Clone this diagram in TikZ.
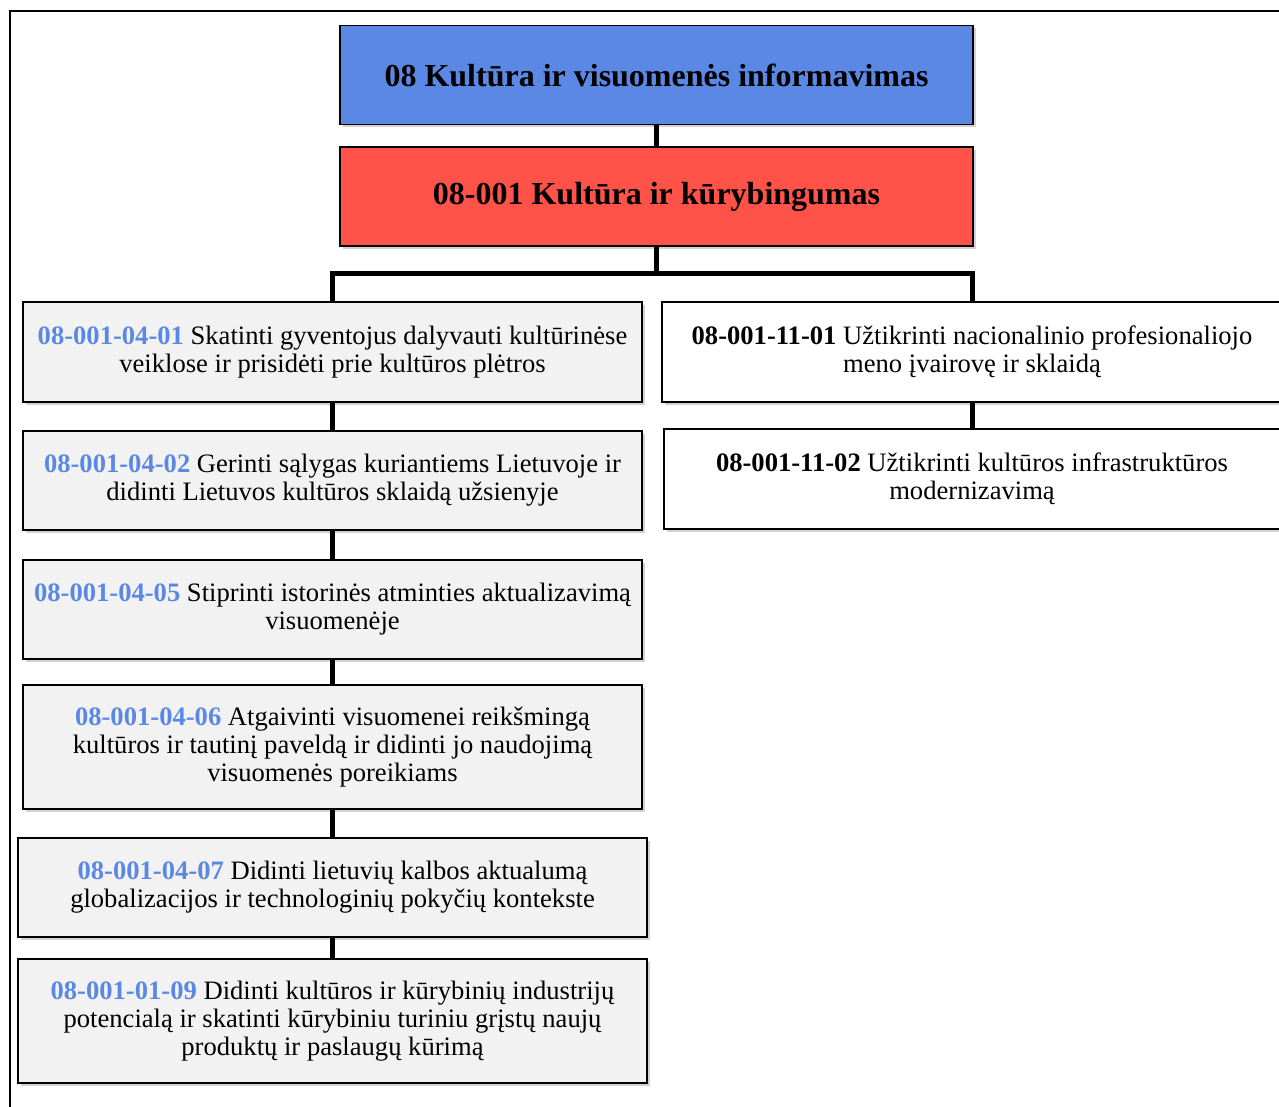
\documentclass[tikz,border=0pt]{standalone}
\usepackage{fontspec}
\setmainfont{Liberation Serif}
\usepackage{xcolor}
\usepackage{tikz}
\usetikzlibrary{calc,shadows}
\definecolor{progblue}{HTML}{5B88E5}
\definecolor{progred}{HTML}{FF5349}
\definecolor{taskgray}{HTML}{F2F2F2}
\newcommand{\progcode}[1]{{\color{progblue}\textbf{#1}}}
\tikzset{headbox/.style={draw=black, line width=0.9pt, rectangle, minimum width=316.5pt, minimum height=49.5pt, align=center, font=\fontsize{16pt}{18pt}\selectfont\bfseries, drop shadow={shadow xshift=1.5pt, shadow yshift=-1.5pt, opacity=0.35}}}
\tikzset{taskbox/.style={draw=black, line width=0.9pt, fill=taskgray, rectangle, inner sep=2pt, minimum width=309.5pt, minimum height=49.5pt, align=center, font=\fontsize{13.3pt}{14pt}\selectfont, drop shadow={shadow xshift=1.5pt, shadow yshift=-1.5pt, opacity=0.35}}}
\tikzset{line/.style={draw, line width=2.5pt, line join=miter}}

\begin{document}
\begin{tikzpicture}
		\useasboundingbox [fill=white] (0,0) rectangle (639.5pt,-553.5pt);
		% frame round the picture
		\coordinate (frametop) at (5pt,-5.5pt);
		\draw [line width=1pt] (645pt,-5.5pt) -- (frametop) -- (5pt,-560pt);
		
		\node [headbox, fill=progblue] at (328.25pt,-37.5pt) (program) {08 Kultūra ir visuomenės informavimas};
		\node [headbox, fill=progred, below of=program, node distance=60.75pt] (goal) {08-001 Kultūra ir kūrybingumas};
		
		%left column
		\node [taskbox, below of=goal, node distance=77.75pt, xshift=-162pt, minimum height=50pt] (task401) {\progcode{08-001-04-01} Skatinti gyventojus dalyvauti kultūrinėse\\ veiklose ir prisidėti prie kultūros plėtros};
		\node [taskbox, below of=task401, node distance=64.25pt] (task402) {\progcode{08-001-04-02} Gerinti sąlygas kuriantiems Lietuvoje ir\\ didinti Lietuvos kultūros sklaidą užsienyje};
		\node [taskbox, below of=task402, node distance=64.5pt] (task405) {\progcode{08-001-04-05} Stiprinti istorinės atminties aktualizavimą\\ visuomenėje};
		\node [taskbox, below of=task405, node distance=68.75pt, minimum height=62pt] (task406) {\progcode{08-001-04-06} Atgaivinti visuomenei reikšmingą\\ kultūros ir tautinį paveldą ir didinti jo naudojimą\\ visuomenės poreikiams};
		\node [taskbox, below of=task406, node distance=70.25pt, minimum width=314.5pt] (task407) {\progcode{08-001-04-07} Didinti lietuvių kalbos aktualumą\\ globalizacijos ir technologinių pokyčių kontekste};
		\node [taskbox, below of=task407, node distance=66.75pt, minimum width=314.5pt, minimum height=62pt] (task109) {\progcode{08-001-01-09} Didinti kultūros ir kūrybinių industrijų\\ potencialą ir skatinti kūrybiniu turiniu grįstų naujų\\ produktų ir paslaugų kūrimą};
		
		%right column
		\node [taskbox, fill=white, below of=goal, node distance=77.75pt, xshift=157.75pt, minimum width=310pt, minimum height=50pt] (task1101) {\textbf{08-001-11-01} Užtikrinti nacionalinio profesionaliojo\\ meno įvairovę ir sklaidą};
		\node [taskbox, fill=white, below of=task1101, node distance=63.5pt, minimum width=308pt, minimum height=50pt] (task1102) {\textbf{08-001-11-02} Užtikrinti kultūros infrastruktūros\\ modernizavimą};
		
		\coordinate (fork) at ($(goal.south)+(0,-13.5pt)$);
		
		\path [line] (program) -- (goal);
		\path [line] (goal.south) -- (fork) -| (task401.north);
		\path [line] (fork) -| (task1101.north);
		\path [line] (task401) -- (task402);
		\path [line] (task402) -- (task405);
		\path [line] (task405) -- (task406);
		\path [line] (task406) -- (task407);
		\path [line] (task407) -- (task109);
		\path [line] (task1101) -- (task1102);
		
\end{tikzpicture}
\end{document}
